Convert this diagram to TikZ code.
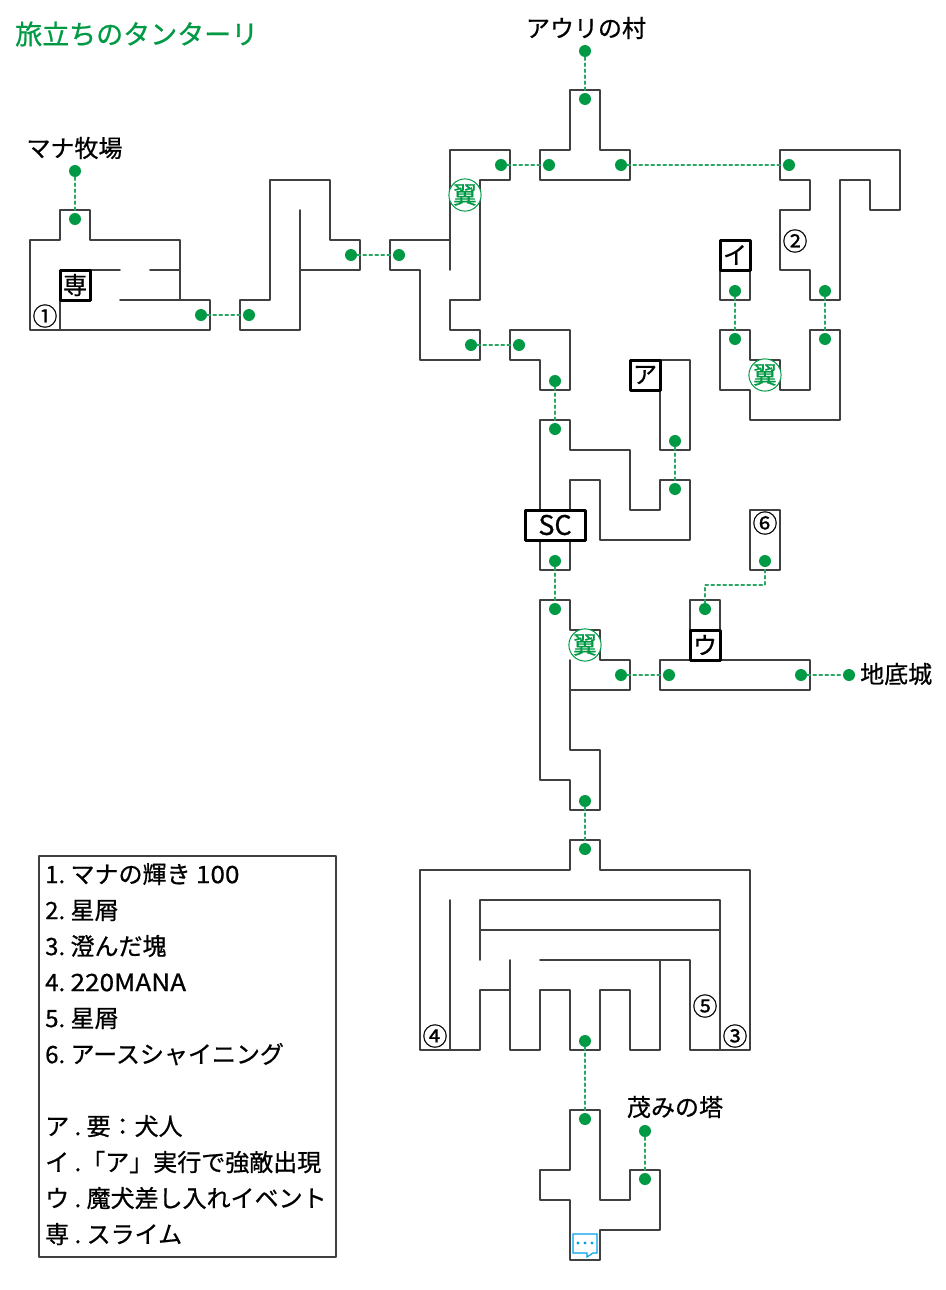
\documentclass[tikz,border=0pt]{standalone}
\usepackage{fontspec}
\setmainfont{Noto Sans CJK JP}[FakeBold=0.7]
\newfontfamily\widefont{Noto Sans CJK JP}[FakeBold=0.7,FakeStretch=1.09]
\definecolor{wallcol}{HTML}{404040}
\definecolor{dotcol}{HTML}{009944}
\definecolor{chatcol}{HTML}{00A0E9}
\tikzset{
	wall/.style={draw=wallcol,line width=1.7pt},
	passdot/.style={circle,fill=dotcol,inner sep=0pt,minimum size=12pt},
	passlink/.style={draw=dotcol!85,line width=1.5pt,dash pattern=on 3pt off 3pt},
	place/.style={font=\fontsize{24}{28}\selectfont\frenchspacing,inner sep=0pt},
	markbox/.style={draw=black,fill=white,line width=3pt,inner sep=0pt,minimum height=30pt,minimum width=30pt,font=\fontsize{24}{28}\selectfont},
	wing/.style={circle,draw=dotcol,fill=white,line width=1pt,inner sep=0pt,minimum size=30pt,text=dotcol,font=\fontsize{24}{28}\selectfont},
	treasure/.style={inner sep=0pt,font=\fontsize{25}{28}\selectfont},
}
\begin{document}
\begin{tikzpicture}[x=1pt,y=-1pt,line join=round,line cap=round]
	\useasboundingbox (0,0) rectangle (945,1290);
	% Rooms, top row
	\draw[wall] (30,240)--(60,240)--(60,210)--(90,210)--(90,240)--(180,240)--(180,300)--(210,300)--(210,330)--(30,330)--cycle;
	\draw[wall] (60,330)--(60,300) (90,270)--(120,270) (150,270)--(180,270) (120,300)--(180,300);
	\draw[wall] (240,300)--(270,300)--(270,180)--(330,180)--(330,240)--(360,240)--(360,270)--(300,270)--(300,330)--(240,330)--cycle;
	\draw[wall] (300,210)--(300,270);
	\draw[wall] (390,240)--(450,240)--(450,150)--(510,150)--(510,180)--(480,180)--(480,300)--(450,300)--(450,330)--(480,330)--(480,360)--(420,360)--(420,270)--(390,270)--cycle;
	\draw[wall] (450,240)--(450,270);
	\draw[wall] (540,150)--(570,150)--(570,90)--(600,90)--(600,150)--(630,150)--(630,180)--(540,180)--cycle;
	\draw[wall] (510,330)--(570,330)--(570,390)--(540,390)--(540,360)--(510,360)--cycle;
	\draw[wall] (780,150)--(900,150)--(900,210)--(870,210)--(870,180)--(840,180)--(840,300)--(810,300)--(810,270)--(780,270)--(780,210)--(810,210)--(810,180)--(780,180)--cycle;
	\draw[wall] (720,270) rectangle (750,300);
	\draw[wall] (720,330)--(750,330)--(750,360)--(780,360)--(780,390)--(810,390)--(810,330)--(840,330)--(840,420)--(750,420)--(750,390)--(720,390)--cycle;
	\draw[wall] (660,360)--(690,360)--(690,450)--(660,450)--cycle;
	% Rooms, middle
	\draw[wall] (540,510)--(540,420)--(570,420)--(570,450)--(630,450)--(630,510)--(660,510)--(660,480)--(690,480)--(690,540)--(600,540)--(600,480)--(570,480)--(570,510);
	\draw[wall] (540,540)--(540,570)--(570,570)--(570,540);
	\draw[wall] (540,600)--(570,600)--(570,630)--(600,630)--(600,660)--(630,660)--(630,690)--(570,690)--(570,750)--(600,750)--(600,810)--(570,810)--(570,780)--(540,780)--cycle;
	\draw[wall] (570,660)--(570,690);
	\draw[wall] (660,660) rectangle (810,690);
	\draw[wall] (690,600) rectangle (720,630);
	\draw[wall] (750,510) rectangle (780,570);
	% Big room
	\draw[wall] (420,870)--(570,870)--(570,840)--(600,840)--(600,870)--(750,870)--(750,1050)--(690,1050)--(690,960)--(540,960);
	\draw[wall] (420,870)--(420,1050)--(480,1050)--(480,990)--(510,990);
	\draw[wall] (510,960)--(510,1050)--(540,1050)--(540,990)--(570,990)--(570,1050)--(600,1050)--(600,990)--(630,990)--(630,1050)--(660,1050)--(660,960);
	\draw[wall] (450,900)--(450,1050);
	\draw[wall] (480,960)--(480,900)--(720,900)--(720,1050);
	\draw[wall] (480,930)--(720,930);
	% Last room
	\draw[wall] (570,1110)--(600,1110)--(600,1200)--(630,1200)--(630,1170)--(660,1170)--(660,1230)--(600,1230)--(600,1260)--(570,1260)--(570,1200)--(540,1200)--(540,1170)--(570,1170)--cycle;
	\draw[chatcol,line width=1.2pt,line join=miter] (573,1234)--(597,1234)--(597,1253)--(593,1253)--(587,1257)--(587,1253)--(573,1253)--cycle;
	\foreach \x in {578,585,592}
	\fill[chatcol] (\x,1243) circle (1.6pt);
	% Passage dots
	\foreach \x/\y/\n in {75/171/ma,75/219/mb,201/315/mc,249/315/md,351/255/me,399/255/mf,
		501/165/ta,549/165/tb,585/51/tc,585/99/td,621/165/te,789/165/tf,
		471/345/ra,519/345/rb,555/381/rc,555/429/rd,
		825/291/ua,825/339/ub,735/291/uc,735/339/ud,675/441/ue,675/489/uf,
		555/561/sa,555/609/sb,621/675/sc,669/675/sd,801/675/se,849/675/sf,705/609/sg,765/561/sh,
		585/801/la,585/849/lb,585/1041/lc,585/1119/ld,645/1131/le,645/1179/lf}
	\node[passdot] (\n) at (\x,\y) {};
	\foreach \a/\b in {ma/mb,mc/md,me/mf,ta/tb,tc/td,te/tf,ra/rb,rc/rd,ua/ub,uc/ud,ue/uf,sa/sb,sc/sd,se/sf,la/lb,lc/ld,le/lf}
	\draw[passlink] (\a)--(\b);
	\draw[passlink] (sg)--(705,585)--(765,585)--(sh);
	% Marks
	\node[markbox] (sen) at (75,285) {専};
	\node[markbox] (mi) at (735,255) {イ};
	\node[markbox] (ma2) at (645,375) {ア};
	\node[markbox] (mu) at (705,645) {ウ};
	\node[markbox,minimum width=60pt,font=\fontsize{27}{30}\selectfont] (scbox) at (555,525) {SC};
	\node[wing] (wa) at (465,195) {翼};
	\node[wing] (wb) at (765,375) {翼};
	\node[wing] (wc) at (585,645) {翼};
	\node[treasure] (ta1) at (45,316) {①};
	\node[treasure] (ta2) at (795,241) {②};
	\node[treasure] (ta3) at (735,1036) {③};
	\node[treasure] (ta4) at (435,1036) {④};
	\node[treasure] (ta5) at (705,1006) {⑤};
	\node[treasure] (ta6) at (765,523) {⑥};
	% Labels
	\node[place,anchor=west,text=dotcol,font=\fontsize{27}{30}\selectfont] (title) at (15,34) {旅立ちのタンターリ};
	\node[place] (lbvillage) at (586,28) {アウリの村};
	\node[place] (lbfarm) at (74.5,148) {マナ牧場};
	\node[place,anchor=west] (lbcastle) at (860,674) {地底城};
	\node[place] (lbtower) at (675,1107) {茂みの塔};
	\node[draw=wallcol,line width=1.5pt,outer sep=0pt,anchor=north west,minimum width=297pt,minimum height=401pt] (legendbox) at (39,856) {};
	\node[anchor=north west,inner sep=0pt,align=left,font=\fontsize{24}{36}\selectfont\frenchspacing] (legend) at (45,863) {%
		1. マナの輝き {\widefont 100}\\
		2. 星屑\\
		3. 澄んだ塊\\
		4. {\widefont 220MANA}\\
		5. 星屑\\
		6. アースシャイニング\\[36pt]
		ア . 要：犬人\\
		イ .「ア」実行で強敵出現\\
		ウ . 魔犬差し入れイベント\\
		専 . スライム};
\end{tikzpicture}
\end{document}
